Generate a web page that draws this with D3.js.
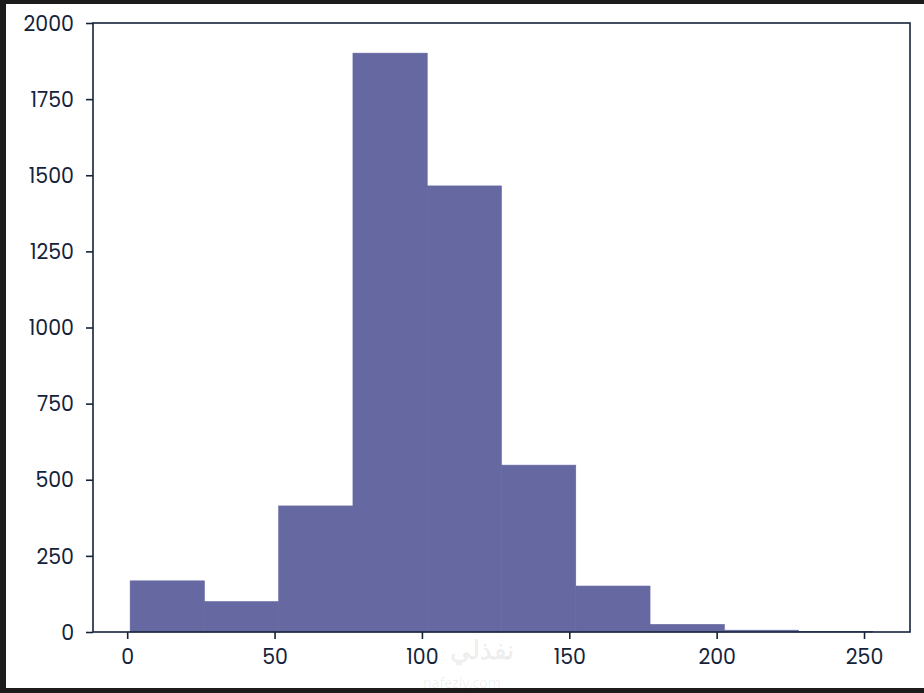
<!DOCTYPE html>
<html>
<head>
<meta charset="utf-8">
<script src="https://cdn.jsdelivr.net/npm/d3@7"></script>
<style>
  html, body { margin: 0; padding: 0; background: #1c1c1c; }
  svg { display: block; }
</style>
</head>
<body>
<svg id="chart" width="924" height="693"></svg>
<script>
// Histogram bin edges and counts
const binEdges = [1, 26.2, 51.4, 76.6, 101.8, 127, 152.2, 177.4, 202.6, 227.8, 253];
const counts = [168, 100, 414, 1901, 1465, 548, 151, 25, 6, 2];
const xTicks = [0, 50, 100, 150, 200, 250];
const yTicks = [0, 250, 500, 750, 1000, 1250, 1500, 1750, 2000];

const bins = counts.map((c, i) => ({ x0: binEdges[i], x1: binEdges[i + 1], count: c }));

const svg = d3.select("#chart");
const W = 924, H = 693;

// page background (white canvas with dark frame edges like the screenshot)
svg.append("rect").attr("x", 6).attr("y", 4).attr("width", W - 6).attr("height", 684).attr("fill", "#ffffff");

const mLeft = 93, mRight = 910, mTop = 23, mBottom = 632;

const x = d3.scaleLinear().domain([-11.6, 265.6]).range([mLeft, mRight]);
const y = d3.scaleLinear().domain([0, 2000]).range([mBottom, mTop]);

const ink = "#14233a";
const barColor = "#6668a1";
const font = "Poppins, 'Noto Sans', 'Open Sans', sans-serif";

// bars
svg.append("g").selectAll("rect").data(bins).join("rect")
  .attr("x", d => x(d.x0))
  .attr("y", d => y(d.count))
  .attr("width", d => x(d.x1) - x(d.x0))
  .attr("height", d => y(0) - y(d.count))
  .attr("fill", barColor)
  .attr("stroke", barColor)
  .attr("stroke-width", 0.6);

// frame
svg.append("rect")
  .attr("x", mLeft).attr("y", mTop)
  .attr("width", mRight - mLeft).attr("height", mBottom - mTop)
  .attr("fill", "none").attr("stroke", ink).attr("stroke-width", 1.6);

// axes
const fmt = d3.format("d");
const xAxis = d3.axisBottom(x).tickValues(xTicks).tickFormat(fmt).tickSize(7).tickPadding(6);
const yAxis = d3.axisLeft(y).tickValues(yTicks).tickFormat(fmt).tickSize(7).tickPadding(12);

const gx = svg.append("g").attr("transform", `translate(0,${mBottom})`).call(xAxis);
const gy = svg.append("g").attr("transform", `translate(${mLeft},0)`).call(yAxis);

[gx, gy].forEach(g => {
  g.select(".domain").remove();
  g.selectAll(".tick line").attr("stroke", ink).attr("stroke-width", 1.6);
  g.selectAll(".tick text")
    .attr("fill", ink)
    .style("font-family", font)
    .style("font-size", "20.5px");
});
gx.selectAll(".tick text").attr("dy", "0.92em");
gy.selectAll(".tick text").attr("dy", "0.35em");

// faint watermark
svg.append("text")
  .attr("x", 482).attr("y", 659)
  .attr("text-anchor", "middle")
  .style("font-family", "'Noto Sans', sans-serif")
  .style("font-size", "26px").style("font-weight", "bold")
  .attr("fill", "#000").attr("fill-opacity", 0.07)
  .text("نفذلي");
svg.append("text")
  .attr("x", 462).attr("y", 688)
  .attr("text-anchor", "middle")
  .style("font-family", "'Noto Sans', sans-serif")
  .style("font-size", "14px")
  .attr("fill", "#000").attr("fill-opacity", 0.07)
  .text("nafezly.com");
</script>
</body>
</html>
